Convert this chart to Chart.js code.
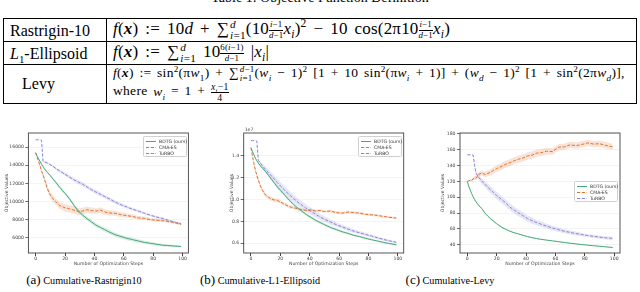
<!DOCTYPE html>
<html>
<head>
<meta charset="utf-8">
<script src="https://cdn.jsdelivr.net/npm/chart.js@4.4.1/dist/chart.umd.min.js"></script>
<style>
  html, body { margin:0; padding:0; background:#fff; }
  body { width:640px; height:292px; position:relative; overflow:hidden; font-family:"Liberation Serif","Times New Roman",serif; color:#000; }
  .tcap { position:absolute; left:0; width:640px; top:-9px; text-align:center; font-size:14px; line-height:14px; }
  table { position:absolute; left:3px; top:18px; width:634px; border-collapse:collapse; }
  td { border:1px solid #000; padding:0 0 0 6px; font-family:"Liberation Serif","Times New Roman",serif; font-size:16px; white-space:nowrap; line-height:15px; }
  td.name { width:96px; }
  td.f { font-size:17px; word-spacing:2.5px; letter-spacing:0.2px; }
  tr.r1 td, tr.r2 td { height:22px; }
  tr.r3 td { height:37px; }
  tr.r3 td.f { font-size:13.5px; line-height:16px; word-spacing:2px; letter-spacing:0.3px; }
  sub, sup { font-size:0.68em; line-height:0; }
  .st { display:inline-flex; flex-direction:column; font-size:0.66em; line-height:0.95; vertical-align:middle; margin-left:1px; }
  .ex { display:inline-flex; flex-direction:column; font-size:0.52em; line-height:1.05; vertical-align:0.75em; text-align:center; }
  .ex > span:first-child { border-bottom:0.6px solid #000; }
  .fr { display:inline-flex; flex-direction:column; font-size:0.72em; line-height:1; vertical-align:middle; text-align:center; }
  .fr > span:first-child { border-bottom:0.6px solid #000; }
  canvas { position:absolute; }
  .legend { position:absolute; background:rgba(255,255,255,0.85); border:0.8px solid #d0d0d0; border-radius:1.5px;
            font-family:"DejaVu Sans",sans-serif; font-size:4.6px; line-height:6px; color:#333; padding:1.5px 2px; box-sizing:border-box; }
  .legend div { white-space:nowrap; height:6px; }
  .legend svg { vertical-align:middle; margin-right:3px; }
  .sub { position:absolute; top:272px; width:220px; text-align:center; font-size:10.2px; }
  .sub span { font-size:13px; }
</style>
</head>
<body>
<div class="tcap">Table 1: Objective Function Definition</div>
<table>
  <tr class="r1">
    <td class="name">Rastrigin-10</td>
    <td class="f"><i>f</i>(<b><i>x</i></b>) := 10<i>d</i> + ∑<span class="st"><i>d</i><span><i>i</i>=1</span></span>(10<span class="ex"><span><i>i</i>−1</span><span><i>d</i>−1</span></span><i>x<sub>i</sub></i>)<sup>2</sup> − 10 cos(2π10<span class="ex"><span><i>i</i>−1</span><span><i>d</i>−1</span></span><i>x<sub>i</sub></i>)</td>
  </tr>
  <tr class="r2">
    <td class="name"><i>L</i><sub>1</sub>-Ellipsoid</td>
    <td class="f"><i>f</i>(<b><i>x</i></b>) := ∑<span class="st"><i>d</i><span><i>i</i>=1</span></span> 10<span class="ex"><span>6(<i>i</i>−1)</span><span><i>d</i>−1</span></span> |<i>x<sub>i</sub></i>|</td>
  </tr>
  <tr class="r3">
    <td class="name">&nbsp;&nbsp;&nbsp;Levy</td>
    <td class="f"><i>f</i>(<b><i>x</i></b>) := sin<sup>2</sup>(π<i>w</i><sub>1</sub>) + ∑<span class="st"><span><i>d</i>−1</span><span><i>i</i>=1</span></span>(<i>w<sub>i</sub></i> − 1)<sup>2</sup> [1 + 10 sin<sup>2</sup>(π<i>w<sub>i</sub></i> + 1)] + (<i>w<sub>d</sub></i> − 1)<sup>2</sup> [1 + sin<sup>2</sup>(2π<i>w<sub>d</sub></i>)],<br>where <i>w<sub>i</sub></i> = 1 + <span class="fr"><span><i>x<sub>i</sub></i>−1</span><span>4</span></span></td>
  </tr>
</table>

<canvas id="chartA" width="196" height="144" style="left:0px;top:126px"></canvas>
<canvas id="chartB" width="200" height="144" style="left:212px;top:126px"></canvas>
<canvas id="chartC" width="205" height="144" style="left:425px;top:126px"></canvas>
<div class="legend" id="legA" style="left:143px;top:136px;width:44px;height:21px"></div>
<div class="legend" id="legB" style="left:358px;top:136px;width:44px;height:21px"></div>
<div class="legend" id="legC" style="left:574px;top:181px;width:44px;height:21px"></div>

<div class="sub" style="left:-26px"><span>(a)</span> Cumulative-Rastrigin10</div>
<div class="sub" style="left:150px"><span>(b)</span> Cumulative-L1-Ellipsoid</div>
<div class="sub" style="left:340px"><span>(c)</span> Cumulative-Levy</div>

<script>
// x positions (optimization steps) where the curves were read
const steps = [0,1,2,3,4,5,6,8,10,12,14,16,18,20,23,26,29,32,35,38,41,44,47,50,54,58,62,66,70,74,78,82,86,90,94,99];
const xTicks = [0,20,40,60,80,100];
const seriesNames = ['BDTG (ours)', 'CMA-ES', 'TuRBO'];
const colors = ['#45a878', '#dc7330', '#8884d4'];
const bandColors = ['rgba(69,168,120,0.2)', 'rgba(220,115,48,0.2)', 'rgba(136,132,212,0.2)'];
const dashes = [[], [3.2,1.6], [3.2,1.6]];

// (a) Rastrigin10
const rastBDTG   = [15350,15000,14700,14400,14100,13850,13600,13200,12850,12450,12050,11650,11250,10900,10300,9600,8950,8500,8100,7750,7400,7150,6900,6650,6350,6150,5950,5800,5650,5500,5400,5300,5200,5150,5100,5050];
const rastCMA    = [15400,14900,14400,13900,13350,12950,12450,11400,10700,10250,9950,9600,9450,9300,9200,9050,8900,8950,9100,9000,8950,9050,8850,8750,8700,8550,8450,8350,8200,8150,8000,7950,7900,7800,7700,7500];
const rastTuRBO  = [16800,16800,16800,16800,16750,14450,14350,14250,14050,13850,13600,13400,13200,13000,12700,12400,12150,11900,11600,11300,11050,10800,10550,10300,9950,9650,9400,9150,8950,8700,8500,8300,8150,7950,7750,7550];
const rastBDTGSd = [0,40,60,80,90,100,110,120,130,140,150,160,170,180,190,200,210,220,230,230,240,240,240,240,230,220,210,200,190,180,170,160,150,140,130,120];
const rastCMASd  = [0,80,120,160,200,230,260,300,330,350,370,380,390,390,400,400,380,360,350,340,320,310,300,290,280,260,240,220,200,190,180,170,160,150,140,130];
const rastTuRBOSd= [0,0,0,0,0,60,80,100,120,140,160,170,180,190,200,210,210,220,220,220,220,210,210,200,190,180,170,160,150,140,130,120,110,100,90,80];
const rastYTicks = [6000,8000,10000,12000,14000,16000];

// (b) L1-Ellipsoid, values in units of 1e7
const ellBDTG    = [1.475,1.44,1.41,1.38,1.355,1.335,1.315,1.285,1.255,1.22,1.185,1.15,1.115,1.085,1.04,0.995,0.955,0.92,0.89,0.86,0.835,0.81,0.79,0.77,0.745,0.725,0.705,0.69,0.672,0.66,0.645,0.632,0.62,0.608,0.597,0.585];
const ellCMA     = [1.475,1.40,1.33,1.27,1.22,1.18,1.14,1.08,1.04,1.02,1.005,0.995,0.99,0.98,0.955,0.935,0.925,0.915,0.905,0.90,0.905,0.895,0.90,0.89,0.895,0.88,0.875,0.885,0.88,0.875,0.865,0.86,0.855,0.845,0.838,0.83];
const ellTuRBO   = [1.54,1.54,1.54,1.54,1.535,1.36,1.34,1.305,1.275,1.245,1.215,1.185,1.155,1.125,1.085,1.045,1.01,0.975,0.945,0.915,0.89,0.865,0.84,0.82,0.795,0.77,0.75,0.73,0.71,0.695,0.68,0.665,0.65,0.635,0.622,0.608];
const ellBDTGSd  = [0,0.003,0.005,0.006,0.007,0.008,0.009,0.01,0.011,0.012,0.013,0.014,0.014,0.015,0.015,0.015,0.015,0.015,0.015,0.014,0.014,0.013,0.013,0.012,0.012,0.011,0.011,0.01,0.01,0.009,0.009,0.008,0.008,0.008,0.007,0.007];
const ellCMASd   = [0,0.01,0.012,0.014,0.015,0.016,0.017,0.018,0.018,0.018,0.018,0.017,0.017,0.016,0.015,0.014,0.013,0.012,0.012,0.012,0.012,0.012,0.012,0.012,0.012,0.012,0.012,0.012,0.012,0.012,0.011,0.011,0.011,0.011,0.01,0.01];
const ellTuRBOSd = [0,0,0,0,0,0.01,0.015,0.02,0.025,0.028,0.03,0.032,0.034,0.035,0.036,0.036,0.036,0.035,0.034,0.033,0.032,0.03,0.028,0.026,0.024,0.022,0.02,0.018,0.017,0.016,0.015,0.014,0.013,0.012,0.011,0.01];
const ellYTicks  = [0.6,0.8,1.0,1.2,1.4];

// (c) Levy
const levyBDTG   = [120,114,109,104.5,100.5,97,94,89,85.5,80,76,72.5,69.5,66.5,62.5,59.5,57,55,53.5,51.8,50.2,49,47.8,46.8,45.8,44.8,43.8,42.8,41.8,41,40.2,39.4,38.7,38,37.3,36.5];
const levyCMA    = [120,120.5,121.5,121,123,124.5,124,129,130.5,128.5,130,131.5,134,136,138.5,141.5,143.5,146,148,149.5,152,153,155.5,156,158,157.5,163,163.5,166,165,166.5,168.5,167,167.5,165.5,163.5];
const levyTuRBO  = [153.5,153.5,153.5,153.5,153,140,130,124.5,120,116.5,112.5,109,105.5,102,97.5,93,87.5,83.5,80,76.5,73,70.5,68,66,63.5,61,59,57,55.5,54,52.8,51.5,50.5,49.5,48.7,48];
const levyBDTGSd = [0,0.5,0.6,0.7,0.8,0.8,0.8,0.8,0.8,0.8,0.8,0.8,0.8,0.7,0.7,0.7,0.6,0.6,0.6,0.6,0.5,0.5,0.5,0.5,0.5,0.5,0.5,0.5,0.5,0.5,0.5,0.5,0.5,0.5,0.5,0.5];
const levyCMASd  = [0,1,1.5,2,2,2.5,2.5,3,3,3.5,3.5,4,4,4,4.5,4.5,4.5,4.5,4.5,4.5,4.5,4.5,4.5,4.5,4.5,4,4,4,4,4,4,4,4,4,4,4];
const levyTuRBOSd= [0,0,0,0,0,2,3,3.5,4,4,4.5,4.5,4.5,4.5,4.5,4.5,4.5,4.5,4.5,4,4,4,3.5,3.5,3,3,3,2.5,2.5,2.5,2,2,2,2,2,2];
const levyYTicks = [40,60,80,100,120,140,160,180];

Chart.defaults.font.family = '"DejaVu Sans", sans-serif';
Chart.defaults.font.size = 4.6;
Chart.defaults.color = '#444';

// box around the axes + optional offset text like "1e7"
const framePlugin = {
  id: 'frame',
  afterDraw(chart, args, opts) {
    const { ctx, chartArea: a } = chart;
    ctx.save();
    ctx.strokeStyle = '#444';
    ctx.lineWidth = 0.9;
    ctx.strokeRect(a.left, a.top, a.width, a.height);
    if (opts.offsetText) {
      ctx.fillStyle = '#444';
      ctx.font = '4.6px "DejaVu Sans"';
      ctx.textBaseline = 'bottom';
      ctx.fillText(opts.offsetText, a.left + 1, a.top - 0.5);
    }
    ctx.restore();
  }
};

function pts(vals, add, sign) {
  return steps.map((s, k) => ({ x: s, y: vals[k] + (add ? sign * add[k] : 0) }));
}

function buildChart(id, legendId, means, spreads, cfg) {
  const datasets = [];
  means.forEach((m, i) => {
    datasets.push({ label: seriesNames[i], data: pts(m), borderColor: colors[i], borderWidth: 1,
      borderDash: dashes[i], pointRadius: 0, fill: false, order: 0 });
  });
  means.forEach((m, i) => {
    datasets.push({ label: '_hi', data: pts(m, spreads[i], 1), borderWidth: 0, pointRadius: 0, fill: false, order: 1 });
    datasets.push({ label: '_lo', data: pts(m, spreads[i], -1), borderWidth: 0, pointRadius: 0,
      fill: '-1', backgroundColor: bandColors[i], order: 1 });
  });

  new Chart(document.getElementById(id), {
    type: 'line',
    data: { datasets },
    plugins: [framePlugin],
    options: {
      responsive: false,
      animation: false,
      devicePixelRatio: 1,
      layout: { padding: { top: 7, right: cfg.padRight, left: 0, bottom: 0 } },
      plugins: {
        legend: { display: false },
        tooltip: { enabled: false },
        frame: { offsetText: cfg.offsetText || '' }
      },
      scales: {
        x: {
          type: 'linear', min: -4.95, max: 103.95,
          afterBuildTicks: s => { s.ticks = xTicks.map(v => ({ value: v })); },
          afterFit: s => { s.height = 17; },
          ticks: { padding: 0, callback: v => String(v), maxRotation: 0 },
          grid: { drawOnChartArea: false, drawTicks: true, tickLength: 3, tickColor: '#444' },
          border: { display: false },
          title: { display: true, text: 'Number of Optimization Steps', padding: { top: 0, bottom: 3.3 } }
        },
        y: {
          type: 'linear', min: cfg.yMin, max: cfg.yMax,
          afterBuildTicks: s => { s.ticks = cfg.yTicks.map(v => ({ value: v })); },
          afterFit: s => { s.width = cfg.yWidth; },
          ticks: { padding: 1.5, callback: cfg.fmt },
          grid: { color: '#ececec', lineWidth: 0.6, tickLength: 3, tickColor: '#444', tickWidth: 0.8 },
          border: { display: false },
          title: { display: true, text: 'Objective Values', padding: { top: cfg.titlePad, bottom: 0 } }
        }
      }
    }
  });

  // html legend in a box, matplotlib style
  const leg = document.getElementById(legendId);
  seriesNames.forEach((name, i) => {
    const row = document.createElement('div');
    const dash = dashes[i].length ? 'stroke-dasharray="' + dashes[i].join(' ') + '"' : '';
    row.innerHTML = '<svg width="10" height="3"><line x1="0" y1="1.5" x2="10" y2="1.5" stroke="' + colors[i] +
      '" stroke-width="1" ' + dash + '/></svg>' + name;
    leg.appendChild(row);
  });
}

buildChart('chartA', 'legA', [rastBDTG, rastCMA, rastTuRBO], [rastBDTGSd, rastCMASd, rastTuRBOSd],
  { yMin: 4330, yMax: 17550, yTicks: rastYTicks, yWidth: 28.4, titlePad: 4, padRight: 7.6, fmt: v => String(v) });
buildChart('chartB', 'legB', [ellBDTG, ellCMA, ellTuRBO], [ellBDTGSd, ellCMASd, ellTuRBOSd],
  { yMin: 0.51, yMax: 1.61, yTicks: ellYTicks, yWidth: 31.7, titlePad: 17, padRight: 8.3, fmt: v => v.toFixed(1), offsetText: '1e7' });
buildChart('chartC', 'legC', [levyBDTG, levyCMA, levyTuRBO], [levyBDTGSd, levyCMASd, levyTuRBOSd],
  { yMin: 29.5, yMax: 181, yTicks: levyYTicks, yWidth: 35, titlePad: 15.3, padRight: 10, fmt: v => String(v) });
</script>
</body>
</html>
